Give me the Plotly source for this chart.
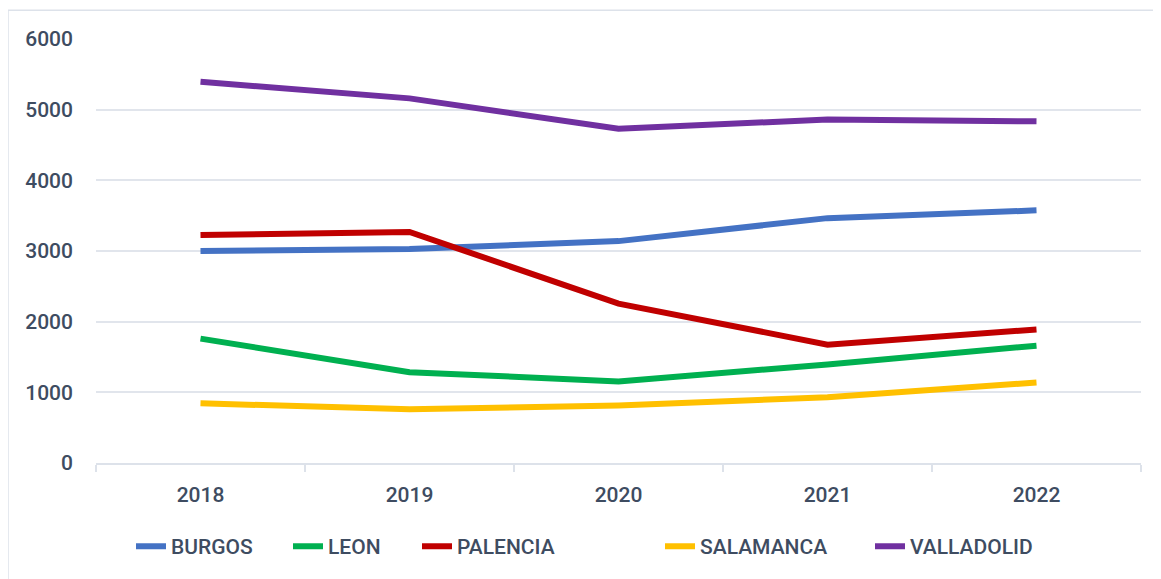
import plotly.graph_objects as go

years = ["2018", "2019", "2020", "2021", "2022"]
burgos = [3000, 3030, 3140, 3465, 3575]
leon = [1760, 1285, 1155, 1395, 1660]
palencia = [3225, 3270, 2255, 1675, 1890]
salamanca = [845, 760, 815, 930, 1140]
valladolid = [5395, 5160, 4730, 4860, 4835]

series = [
    ("BURGOS", burgos, "#4472C4"),
    ("LEON", leon, "#00B050"),
    ("PALENCIA", palencia, "#C00000"),
    ("SALAMANCA", salamanca, "#FFC000"),
    ("VALLADOLID", valladolid, "#7030A0"),
]
# page x where each legend label text begins
legend_text_x = [171, 328, 457, 700, 910]

OFF = 8  # body margin of the page
W, H = 1161 - OFF, 579 - OFF
L, R = 96 - OFF, 20
T = 39 - OFF
B = H - (465 - OFF)
pw = W - L - R
ph = H - T - B

font = dict(family="Roboto, Lato, sans-serif", size=21, color="#3E4C61", weight=500)

fig = go.Figure()
layout_legends = {}
for i, (name, vals, col) in enumerate(series):
    lg = "legend" if i == 0 else f"legend{i+1}"
    fig.add_trace(go.Scatter(x=years, y=vals, name=name, mode="lines",
                             line=dict(color=col, width=6), legend=lg))
    tx = legend_text_x[i] - OFF
    layout_legends[lg] = dict(
        orientation="h", x=(tx - 40 - L) / pw, xanchor="left",
        y=(T + ph - (549 - OFF)) / ph, yanchor="middle",
        font=font, bgcolor="rgba(0,0,0,0)", borderwidth=0)

fig.update_layout(
    width=W, height=H,
    margin=dict(l=L, r=R, t=T, b=B),
    paper_bgcolor="white", plot_bgcolor="white",
    font=font,
    showlegend=True,
    xaxis=dict(type="category", range=[-0.5, 4.5], showgrid=False,
               showline=True, linecolor="#DDE2EA", linewidth=2,
               ticks="outside", tickson="boundaries", ticklen=7,
               tickcolor="#DDE2EA", tickwidth=2, ticklabelstandoff=12,
               tickfont=font),
    yaxis=dict(range=[0, 6000], dtick=1000, showgrid=True, gridcolor="#E1E5EC",
               gridwidth=2, zeroline=False, showline=False, ticks="",
               ticklabelstandoff=22, tickfont=font),
    shapes=[dict(type="rect", xref="paper", yref="paper",
                 x0=(0 - L) / pw, x1=(W + 20 - L) / pw,
                 y0=(T + ph - (H + 20)) / ph, y1=(T + ph - 2) / ph,
                 line=dict(color="#DDE2EA", width=1.5), layer="below")],
    **layout_legends,
)

fig.write_html("out.html")
